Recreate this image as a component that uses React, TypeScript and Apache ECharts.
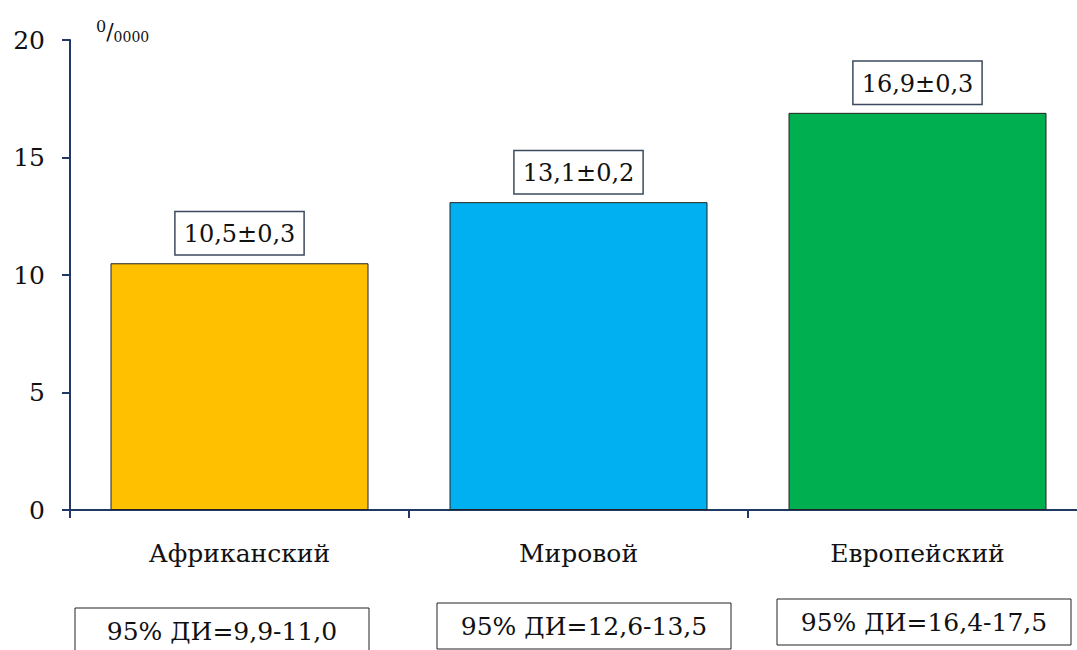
import React, { useEffect, useRef } from "react";
import * as echarts from "echarts";

const categories = ["Африканский", "Мировой", "Европейский"];
const values = [10.5, 13.1, 16.9];
const errors = ["0,3", "0,2", "0,3"];
const barColors = ["#FFC000", "#00B0F0", "#00B050"];
const ciLabels = ["95% ДИ=9,9-11,0", "95% ДИ=12,6-13,5", "95% ДИ=16,4-17,5"];
const yTicks = { min: 0, max: 20, interval: 5 };

const FONT = "DejaVu Serif";
const AXIS = "#1F3864";

export default function App() {
  const ref = useRef<HTMLDivElement>(null);
  useEffect(() => {
    if (!ref.current) return;
    const chart = echarts.init(ref.current, null, { renderer: "svg" });
    const ciCenters = [222, 584, 924];
    const ciTops = [608, 603, 599];
    const ciGraphics: any[] = [];
    ciLabels.forEach((t, i) => {
      ciGraphics.push({
        type: "rect",
        shape: { x: ciCenters[i] - 147, y: ciTops[i], width: 294, height: 46 },
        style: { fill: "#fff", stroke: "#222", lineWidth: 1 },
      });
      ciGraphics.push({
        type: "text",
        x: ciCenters[i],
        y: ciTops[i] + 23,
        style: {
          text: t,
          fontFamily: FONT,
          fontSize: 25,
          fill: "#111",
          align: "center",
          verticalAlign: "middle",
        },
      });
    });
    chart.setOption({
      animation: false,
      backgroundColor: "#fff",
      textStyle: { fontFamily: FONT },
      grid: { left: 70, top: 40, bottom: 140, right: 0, containLabel: false },
      xAxis: {
        type: "category",
        data: categories,
        axisLine: { show: true, lineStyle: { color: AXIS, width: 2 } },
        axisTick: { show: true, length: 8, lineStyle: { color: AXIS, width: 2 } },
        axisLabel: { margin: 31, color: "#111", fontFamily: FONT, fontSize: 25 },
      },
      yAxis: {
        type: "value",
        min: yTicks.min,
        max: yTicks.max,
        interval: yTicks.interval,
        splitLine: { show: false },
        axisLine: { show: true, lineStyle: { color: AXIS, width: 2 } },
        axisTick: { show: true, length: 8, lineStyle: { color: AXIS, width: 2 } },
        axisLabel: { margin: 25, color: "#111", fontFamily: FONT, fontSize: 25 },
      },
      series: [
        {
          type: "bar",
          barWidth: 258,
          data: values.map((v, i) => ({
            value: v,
            itemStyle: { color: barColors[i], borderColor: "#222", borderWidth: 1 },
          })),
          label: {
            show: true,
            position: "top",
            distance: 9,
            formatter: (p: any) =>
              `${String(p.value).replace(".", ",")}±${errors[p.dataIndex]}`,
            fontFamily: FONT,
            fontSize: 24,
            color: "#111",
            backgroundColor: "#fff",
            borderColor: "#3B4A5E",
            borderWidth: 1.5,
            padding: [10, 8, 8, 8],
          },
        },
      ],
      graphic: [
        {
          type: "text",
          x: 96,
          y: 18,
          style: {
            text: "{sup|0}{sl|/}{sub|0000}",
            rich: {
              sup: { fontFamily: FONT, fontSize: 16, fill: "#111", verticalAlign: "top", padding: [0, 0, 8, 0] },
              sl: { fontFamily: FONT, fontSize: 22, fill: "#111" },
              sub: { fontFamily: FONT, fontSize: 14, fill: "#111", padding: [12, 0, 0, 0] },
            },
          },
        },
        ...ciGraphics,
      ],
    });
    return () => chart.dispose();
  }, []);
  return (
    <div style={{ position: "absolute", left: 0, top: 0, width: 1077, height: 650, overflow: "hidden" }}>
      <div ref={ref} style={{ width: 1087, height: 650 }} />
    </div>
  );
}
